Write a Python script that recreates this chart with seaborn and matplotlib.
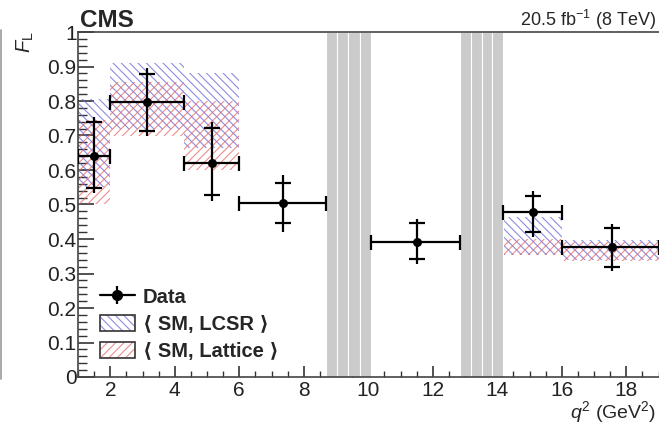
import numpy as np
import matplotlib
matplotlib.use("Agg")
import matplotlib.pyplot as plt
import seaborn as sns
from matplotlib.patches import Patch
from matplotlib.lines import Line2D
from matplotlib.legend_handler import HandlerTuple
from matplotlib.font_manager import FontProperties
from matplotlib.ticker import MultipleLocator, FuncFormatter

# ---------------- data ----------------
bin_lo = [1.0, 2.0, 4.3, 6.0, 10.09, 14.18, 16.0]
bin_hi = [2.0, 4.3, 6.0, 8.68, 12.86, 16.0, 19.0]
q2_mean = [1.50, 3.15, 5.16, 7.36, 11.50, 15.12, 17.55]
fl = [0.641, 0.798, 0.619, 0.503, 0.392, 0.477, 0.376]
stat_up = [0.099, 0.080, 0.104, 0.060, 0.053, 0.049, 0.057]
stat_dn = [0.092, 0.084, 0.091, 0.058, 0.050, 0.056, 0.058]
tot_up = [0.112, 0.097, 0.121, 0.082, 0.065, 0.063, 0.067]
tot_dn = [0.108, 0.099, 0.109, 0.084, 0.065, 0.072, 0.068]

th_lo_edge = [1.0, 2.0, 4.3, 14.18, 16.0]
th_hi_edge = [2.0, 4.3, 6.0, 16.0, 19.0]
lcsr_lo = [0.550, 0.720, 0.663, 0.354, 0.339]
lcsr_hi = [0.805, 0.909, 0.880, 0.463, 0.397]
latt_lo = [0.500, 0.700, 0.600, 0.354, 0.336]
latt_hi = [0.745, 0.856, 0.800, 0.400, 0.390]

vetoes = [(8.68, 10.09), (12.86, 14.18)]

# ---------------- style ----------------
sns.set_style("ticks")
plt.rcParams["font.family"] = ["Liberation Sans", "DejaVu Sans"]
plt.rcParams["mathtext.fontset"] = "custom"
plt.rcParams["mathtext.rm"] = "Liberation Sans"
plt.rcParams["mathtext.it"] = "Liberation Sans:italic"
plt.rcParams["mathtext.bf"] = "Liberation Sans:bold"
plt.rcParams["hatch.linewidth"] = 0.8

fig = plt.figure(figsize=(6.59, 4.48), dpi=100)
ax = fig.add_axes([78 / 659, 1 - 377 / 448, 580.5 / 659, 345 / 448])

blue = (0.40, 0.40, 0.85, 0.75)
red = (0.90, 0.40, 0.40, 0.75)

widths = np.array(th_hi_edge) - np.array(th_lo_edge)
ax.bar(th_lo_edge, np.array(lcsr_hi) - np.array(lcsr_lo), width=widths,
       bottom=lcsr_lo, align="edge", facecolor="none", edgecolor=blue,
       linewidth=0, hatch="\\\\\\\\", zorder=1)
ax.bar(th_lo_edge, np.array(latt_hi) - np.array(latt_lo), width=widths,
       bottom=latt_lo, align="edge", facecolor="none", edgecolor=red,
       linewidth=0, hatch="////", zorder=1)

# veto regions
for lo, hi in vetoes:
    edges = np.linspace(lo, hi, 5)
    for a, b in zip(edges[:-1], edges[1:]):
        ax.axvspan(a, b, ymin=0, ymax=1, facecolor="#cbcbcb",
                   edgecolor="white", linewidth=0.8, zorder=2)

x = np.array(q2_mean)
y = np.array(fl)
xerr = [x - np.array(bin_lo), np.array(bin_hi) - x]
lw = 1.6
ax.errorbar(x, y, xerr=xerr, fmt="none", ecolor="black", elinewidth=lw,
            capsize=5.4, capthick=lw, zorder=3)
ax.errorbar(x, y, yerr=[tot_dn, tot_up], fmt="none", ecolor="black",
            elinewidth=lw, capsize=0, zorder=3)
ax.errorbar(x, y, yerr=[stat_dn, stat_up], fmt="none", ecolor="black",
            elinewidth=0, capsize=5.6, capthick=lw, zorder=3)
sns.scatterplot(x=x, y=y, ax=ax, color="black", s=42, linewidth=0,
                zorder=4, legend=False)

# axes
ax.set_xlim(1, 19)
ax.set_ylim(0, 1)
ax.xaxis.set_major_locator(MultipleLocator(2))
ax.xaxis.set_minor_locator(MultipleLocator(0.5))
ax.yaxis.set_major_locator(MultipleLocator(0.1))
ax.yaxis.set_minor_locator(MultipleLocator(0.02))
ax.yaxis.set_major_formatter(FuncFormatter(lambda v, p: f"{v:g}"))
ax.set_xticks([2, 4, 6, 8, 10, 12, 14, 16, 18])
ax.tick_params(axis="x", which="major", direction="in", length=8, width=1.2,
               labelsize=15, pad=3, colors="#333333", labelcolor="#222222")
ax.tick_params(axis="x", which="minor", direction="in", length=4.3, width=1.0,
               colors="#333333")
ax.tick_params(axis="y", which="major", direction="in", length=11.5, width=1.2,
               labelsize=15, pad=1, colors="#333333", labelcolor="#222222")
ax.tick_params(axis="y", which="minor", direction="in", length=6.5, width=1.0,
               colors="#333333")
for s in ["left", "bottom", "top"]:
    ax.spines[s].set_color("#444444")
    ax.spines[s].set_linewidth(1.2)
ax.spines["right"].set_visible(False)
ax.set_xlabel("")
ax.set_ylabel("")

# texts
fig.text(80 / 659, 1 - 27 / 448, "CMS", fontsize=17.5, fontweight="bold",
         ha="left", va="baseline")
fig.text(656 / 659, 1 - 26 / 448, r"20.5 fb$^{-1}$ (8 TeV)", fontsize=13,
         ha="right", va="baseline")
fig.text(656 / 659, 1 - 418 / 448, r"$q^{2}$ (GeV$^{2}$)", fontsize=14,
         ha="right", va="baseline")
fig.text(25 / 659, 1 - 53 / 448, r"$F_{\mathrm{L}}$", fontsize=14.5,
         rotation=90, ha="center", va="bottom")

# left frame line
fig.add_artist(Line2D([0.0015, 0.0015], [1 - 30 / 448, 1 - 379 / 448],
                      transform=fig.transFigure, color="#9a9a9a", lw=1.2))

# legend
h_data = (Line2D([], [], color="black", lw=lw, marker="o", ms=7),
          Line2D([], [], color="black", lw=0, marker="|", ms=13, mew=lw))
h_lcsr = (Patch(facecolor="white", edgecolor=blue, linewidth=0, hatch="\\\\\\\\"),
          Patch(facecolor="none", edgecolor="#333333", linewidth=1.2))
h_latt = (Patch(facecolor="white", edgecolor=red, linewidth=0, hatch="////"),
          Patch(facecolor="none", edgecolor="#333333", linewidth=1.2))
prop = FontProperties(family=["Liberation Sans", "DejaVu Sans"], weight="bold",
                      size=14.5)
ax.legend([h_data, h_lcsr, h_latt],
          ["Data", "\u27e8 SM, LCSR \u27e9", "\u27e8 SM, Lattice \u27e9"],
          handler_map={tuple: HandlerTuple(ndivide=1, pad=0)},
          loc="lower left", bbox_to_anchor=((100 - 78) / 580.5, (377 - 361) / 345),
          frameon=False, prop=prop, borderpad=0, borderaxespad=0,
          handlelength=1.72, handleheight=0.9, handletextpad=0.4,
          labelspacing=0.38)

fig.savefig("out.png", dpi=100)
